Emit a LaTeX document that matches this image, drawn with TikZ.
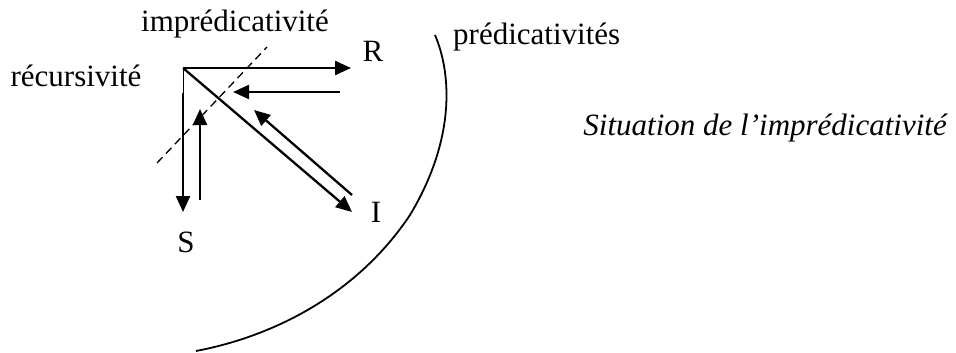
\documentclass[tikz,border=0pt]{standalone}
\usepackage{fontspec}
\setmainfont{Liberation Serif}
\usetikzlibrary{arrows.meta}

\begin{document}
\begin{tikzpicture}[x=1pt, y=-1pt,
    every node/.style={font=\fontsize{31}{36}\selectfont, inner sep=0pt, anchor=base},
    arr/.style={-{Triangle[length=16pt, width=14pt]}, line width=2.3pt}]
  \useasboundingbox (0,0) rectangle (956,353);
  % corner and arrow ends
  \coordinate (o) at (183,68);
  \coordinate (o1) at (183,93);
  \coordinate (r0) at (351,68);
  \coordinate (r1) at (340,92);
  \coordinate (r2) at (233,92);
  \coordinate (i0) at (352,212);
  \coordinate (i1) at (352,195);
  \coordinate (i2) at (254,110);
  \coordinate (s0) at (183,212);
  \coordinate (s1) at (200,200);
  \coordinate (s2) at (200,109);
  \coordinate (d0) at (157,163);
  \coordinate (d1) at (267,47);
  % labels
  \node (imp) at (235,32) {imprédicativité};
  \node (rec) at (76,86) {récursivité};
  \node (r) at (373,62) {R};
  \node (i) at (376,222) {I};
  \node (s) at (186,252) {S};
  \node[anchor=base west] (pred) at (453,45) {prédicativités};
  \node[anchor=base east, font=\fontsize{31}{36}\selectfont\itshape] (sit) at (947,135)
       {Situation de l’imprédicativité};
  % arrows
  \draw[arr] (o) -- (r0);
  \draw[arr] (r1) -- (r2);
  \draw[arr] (o) -- (i0);
  \draw[arr] (i1) -- (i2);
  \draw[line width=0.8pt] (o) -- (o1);
  \draw[arr] (o1) -- (s0);
  \draw[arr] (s1) -- (s2);
  \draw[line width=1.3pt, dash pattern=on 8pt off 5pt] (d0) -- (d1);
  % boundary of the predicativities
  \draw[line width=1.8pt] (435,35) .. controls (452,75) and (455,140) .. (410,215)
        .. controls (360,290) and (280,335) .. (196,351);
\end{tikzpicture}
\end{document}
